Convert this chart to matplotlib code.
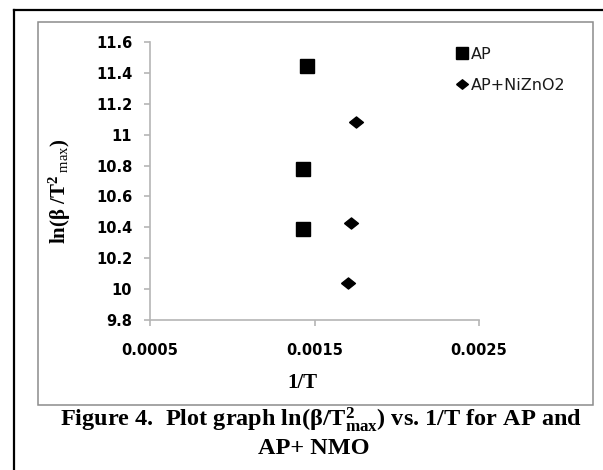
import matplotlib
matplotlib.use("Agg")
import matplotlib.pyplot as plt
from matplotlib.lines import Line2D
from matplotlib.patches import Rectangle

plt.rcParams['mathtext.fontset'] = 'custom'
plt.rcParams['mathtext.rm'] = 'Liberation Serif'
plt.rcParams['mathtext.bf'] = 'Liberation Serif:bold'
plt.rcParams['mathtext.it'] = 'Liberation Serif:italic'

# data
ap_x = [0.001456, 0.001432, 0.001429]
ap_y = [11.446, 10.779, 10.392]
np_x = [0.001750, 0.001722, 0.001706]
np_y = [11.079, 10.427, 10.038]

x_ticks = [0.0005, 0.0015, 0.0025]
x_ticklabels = ['0.0005', '0.0015', '0.0025']
y_ticks = [9.8, 10, 10.2, 10.4, 10.6, 10.8, 11, 11.2, 11.4, 11.6]
y_ticklabels = ['9.8', '10', '10.2', '10.4', '10.6', '10.8', '11', '11.2', '11.4', '11.6']

W, H = 603, 470
fig = plt.figure(figsize=(W / 100, H / 100), dpi=100)

# outer black frame (runs off the right and bottom of the image)
fig.add_artist(Line2D([14 / W, 14 / W], [-0.05, 1 - 10 / H], color='black', lw=1.6))
fig.add_artist(Line2D([14 / W, 1.05], [1 - 10 / H, 1 - 10 / H], color='black', lw=1.6))

# grey chart area border
fig.add_artist(Rectangle((38 / W, 1 - 405 / H), (593 - 38) / W, (405 - 22) / H,
                         transform=fig.transFigure, fill=False, edgecolor='#8c8c8c', lw=1.1))

ax = fig.add_axes([150 / W, 1 - 320 / H, (479 - 150) / W, (320 - 42) / H])

# custom diamond, a bit wider than tall like the Excel marker
diamond = [(-1, 0), (0, -0.8), (1, 0), (0, 0.8), (-1, 0)]

ax.plot(ap_x, ap_y, ls='none', marker='s', ms=10.5, color='black', label='AP')
ax.plot(np_x, np_y, ls='none', marker=diamond, ms=10, color='black', label='AP+NiZnO2')

ax.set_xlim(0.0005, 0.0025)
ax.set_ylim(9.8, 11.6)
ax.set_xticks(x_ticks)
ax.set_xticklabels(x_ticklabels)
ax.set_yticks(y_ticks)
ax.set_yticklabels(y_ticklabels)

for sp in ['top', 'right']:
    ax.spines[sp].set_visible(False)
for sp in ['left', 'bottom']:
    ax.spines[sp].set_color('#b5b5b5')
    ax.spines[sp].set_linewidth(1.2)

ax.tick_params(axis='both', direction='out', length=4.3, width=1.2, color='#b5b5b5',
               labelsize=10.5, labelcolor='black')
ax.tick_params(axis='y', pad=8.5)
ax.tick_params(axis='x', pad=12)
for lbl in ax.get_xticklabels() + ax.get_yticklabels():
    lbl.set_fontweight('bold')

# axis titles
fig.text(302.5 / W, 1 - 388 / H, '1/T', ha='center', va='baseline',
         fontsize=15, fontweight='bold', family='Liberation Serif')
fig.text(60 / W, 1 - 191 / H,
         r'$\mathbf{ln(\beta\ /T}^{\mathbf{2}}{}_{\mathrm{\ max}}\mathbf{)}$',
         ha='center', va='center', rotation=90, fontsize=15)

leg = ax.legend(loc='upper left', bbox_to_anchor=(457 / W, 1 - 47 / H),
                bbox_transform=fig.transFigure, frameon=False, fontsize=11.5,
                handlelength=0.6, handletextpad=0.25, labelspacing=1.0,
                markerscale=0.85, borderpad=0, borderaxespad=0)
for t in leg.get_texts():
    t.set_color('#1a1a1a')

# caption under the chart
fig.text(320.5 / W, 1 - 426.5 / H,
         r'Figure 4.  Plot graph ln(β/T$^{\mathbf{2}}_{\mathbf{max}}$) vs. 1/T for AP and',
         ha='center', va='baseline', fontsize=17.5, fontweight='bold', family='Liberation Serif')
fig.text(314 / W, 1 - 453.5 / H, 'AP+ NMO',
         ha='center', va='baseline', fontsize=17.5, fontweight='bold', family='Liberation Serif')

fig.savefig('out.png', dpi=100)
